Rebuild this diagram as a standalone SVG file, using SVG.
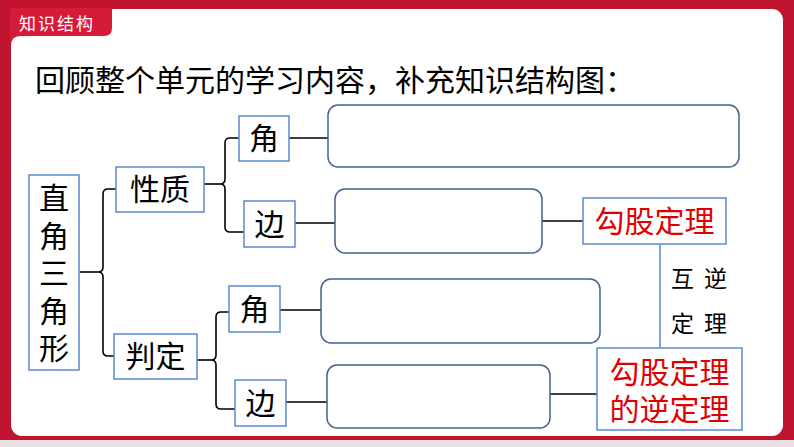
<svg xmlns="http://www.w3.org/2000/svg" width="794" height="447" viewBox="0 0 794 447">
<style>
.t{font-family:"Noto Sans CJK SC","Noto Sans",sans-serif;font-size:30px;fill:#000;text-anchor:middle}
.red{fill:#e00000}
.node{fill:#fff;stroke:#5b8bd0;stroke-width:1.5}
.blank{fill:#fff;stroke:#44608f;stroke-width:1.5}
.ln{fill:none;stroke:#000;stroke-width:1.6}
.bl{fill:none;stroke:#5b8bd0;stroke-width:1.5}
.small{font-family:"Noto Sans CJK SC",sans-serif;font-size:23px;fill:#000;letter-spacing:10px}
</style>
<defs>
<linearGradient id="fr" x1="0" y1="0" x2="1" y2="0">
<stop offset="0" stop-color="#a8122a"/><stop offset="0.5" stop-color="#c8142f"/><stop offset="1" stop-color="#a8122a"/>
</linearGradient>
</defs>
<g id="frame">
<rect x="0" y="0" width="794" height="447" fill="#c01530"/>
<rect x="0" y="440" width="794" height="7" fill="#e9dfe1"/>
<rect x="11" y="9" width="772" height="427" rx="11" fill="#fff"/>
<path d="M10,38 V17 Q10,8 19,8 H112 V28 Q112,36 104,36 H20 Q11,36 11,46 Z" fill="#d61a3a"/>
<rect x="10" y="8" width="102" height="3" fill="#d61a3a"/>
<text x="19" y="30" font-family="'Noto Sans CJK SC',sans-serif" font-size="17" fill="#fff" letter-spacing="2">知识结构</text>
</g>
<text class="t" x="35" y="91" style="text-anchor:start">回顾整个单元的学习内容，补充知识结构图：</text>
<g id="connectors">
<path class="ln" d="M80,272 H98"/>
<path class="ln" d="M116,189 H108 Q103,189 103,194 V267 Q103,272 98,272 Q103,272 103,277 V351 Q103,356 108,356 H114"/>
<path class="ln" d="M204,184 H220"/>
<path class="ln" d="M239,138 H230 Q225,138 225,143 V179 Q225,184 220,184 Q225,184 225,189 V227 Q225,232 230,232 H244"/>
<path class="ln" d="M197,360 H211"/>
<path class="ln" d="M229,312 H221 Q216,312 216,317 V355 Q216,360 211,360 Q216,360 216,365 V404 Q216,409 221,409 H235"/>
<path class="ln" d="M289,138 H328"/>
<path class="ln" d="M295,223 H335"/>
<path class="ln" d="M542,221 H583"/>
<path class="ln" d="M280,310 H321"/>
<path class="ln" d="M286,402 H327"/>
<path class="ln" d="M550,394 H597"/>
<path class="bl" d="M660,244 V348"/>
</g>
<g id="n-root"><rect class="node" x="29" y="175" width="50" height="195"/>
<text class="t" x="54" y="209">直</text><text class="t" x="54" y="247">角</text><text class="t" x="54" y="284">三</text><text class="t" x="54" y="322">角</text><text class="t" x="54" y="359">形</text></g>
<g id="n-xingzhi"><rect class="node" x="116" y="167" width="88" height="45"/><text class="t" x="160" y="200">性质</text></g>
<g id="n-panding"><rect class="node" x="114" y="334" width="83" height="45"/><text class="t" x="155.5" y="367">判定</text></g>
<g id="n-jiao1"><rect class="node" x="239" y="116" width="50" height="45"/><text class="t" x="264" y="149">角</text></g>
<g id="n-bian1"><rect class="node" x="244" y="201" width="51" height="46"/><text class="t" x="269.5" y="235">边</text></g>
<g id="n-jiao2"><rect class="node" x="229" y="286" width="51" height="46"/><text class="t" x="254.5" y="320">角</text></g>
<g id="n-bian2"><rect class="node" x="235" y="380" width="51" height="46"/><text class="t" x="260.5" y="414">边</text></g>
<g id="b1"><rect class="blank" x="328" y="105" width="411" height="62" rx="10"/></g>
<g id="b2"><rect class="blank" x="335" y="189" width="207" height="64" rx="10"/></g>
<g id="b3"><rect class="blank" x="321" y="279" width="279" height="64" rx="10"/></g>
<g id="b4"><rect class="blank" x="327" y="365" width="223" height="63" rx="10"/></g>
<g id="n-gougu"><rect class="node" x="583" y="198" width="143" height="46"/><text class="t red" x="654.5" y="232">勾股定理</text></g>
<g id="n-nidingli"><rect class="node" x="597" y="348" width="145" height="82"/><text class="t red" x="669.5" y="383">勾股定理</text><text class="t red" x="669.5" y="420">的逆定理</text></g>
<g id="label"><text class="small" x="671" y="287">互逆</text><text class="small" x="671" y="332">定理</text></g>
</svg>
